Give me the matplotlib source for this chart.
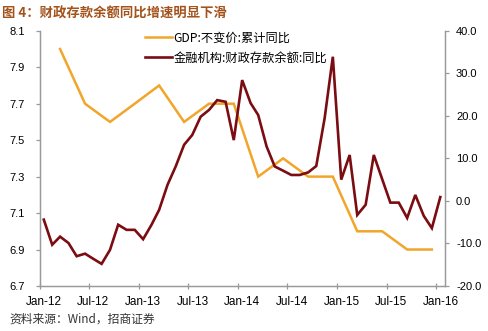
import matplotlib
matplotlib.use("Agg")
import matplotlib.pyplot as plt
import matplotlib.transforms as mtransforms
import numpy as np
import pandas as pd

plt.rcParams['font.family'] = ['Liberation Sans', 'Noto Sans CJK SC', 'DejaVu Sans']
plt.rcParams['axes.unicode_minus'] = False

# Quarterly GDP, constant price, cumulative YoY (%)
gdp_months = ['2012-03', '2012-06', '2012-09', '2012-12', '2013-03', '2013-06', '2013-09', '2013-12',
              '2014-03', '2014-06', '2014-09', '2014-12', '2015-03', '2015-06', '2015-09', '2015-12']
gdp_values = [8.0, 7.7, 7.6, 7.7, 7.8, 7.6, 7.7, 7.7,
              7.3, 7.4, 7.3, 7.3, 7.0, 7.0, 6.9, 6.9]

# Monthly fiscal deposits of financial institutions, YoY (%), Jan-2012 .. Jan-2016
dep_start = '2012-01'
dep_values = [-4.4, -10.3, -8.4, -9.9, -13.0, -12.4, -13.6, -14.8, -11.5, -5.6, -6.8, -6.8,
              -9.0, -5.6, -2.1, 3.8, 8.1, 13.2, 15.5, 19.8, 21.4, 23.7, 23.3, 14.3,
              28.4, 23.0, 20.2, 12.8, 8.1, 7.1, 6.1, 6.1, 6.7, 8.2, 19.5, 33.9,
              5.0, 10.8, -3.3, -0.9, 10.8, 5.1, -0.4, -0.4, -4.0, 1.4, -3.5, -6.4,
              0.9]

gdp_label = 'GDP:不变价:累计同比'
dep_label = '金融机构:财政存款余额:同比'
tick_labels = ['Jan-12', 'Jul-12', 'Jan-13', 'Jul-13', 'Jan-14', 'Jul-14', 'Jan-15', 'Jul-15', 'Jan-16']
title = '图 4：财政存款余额同比增速明显下滑'
source = '资料来源：Wind，招商证券'

orange = '#F2A52B'
darkred = '#7A0C12'
grey = '#9A9A9A'
cjk = ['Noto Sans CJK SC', 'DejaVu Sans']

# place monthly observations mid-month
gdp_x = pd.to_datetime(gdp_months) + pd.Timedelta(days=14)
dep_x = pd.date_range(dep_start, periods=len(dep_values), freq='MS') + pd.Timedelta(days=14)

fig = plt.figure(figsize=(4.89, 3.31), dpi=100)
ax = fig.add_axes([0.0818, 0.136, 0.828, 0.771])
ax2 = ax.twinx()

l1, = ax.plot(gdp_x, gdp_values, color=orange, lw=1.8, solid_joinstyle='miter')
l2, = ax2.plot(dep_x, dep_values, color=darkred, lw=1.9, solid_joinstyle='miter')

ax.set_ylim(6.7, 8.1)
ax.set_yticks(np.arange(6.7, 8.11, 0.2))
ax.yaxis.set_major_formatter(matplotlib.ticker.FormatStrFormatter('%.1f'))
ax2.set_ylim(-20, 40)
ax2.set_yticks(np.arange(-20, 41, 10))
ax2.yaxis.set_major_formatter(matplotlib.ticker.FormatStrFormatter('%.1f'))

ax.set_xlim(pd.Timestamp('2012-01-01'), pd.Timestamp('2016-02-01'))
ticks = pd.date_range('2012-01-01', '2016-01-01', freq='6MS')
ax.set_xticks(ticks)
ax.set_xticklabels(tick_labels)

for a in (ax, ax2):
    for s in a.spines.values():
        s.set_color(grey)
        s.set_linewidth(0.9)
    a.spines['top'].set_visible(False)
    a.tick_params(colors=grey, labelcolor='black', labelsize=8, length=3, width=0.9)
ax.tick_params(axis='x', direction='inout', length=5, pad=4.5, labelsize=8.5)
ax.tick_params(axis='y', pad=8)
ax2.tick_params(axis='y', pad=5)

# nudge date labels slightly to the right of their ticks
shift = mtransforms.ScaledTranslation(4 / 100, 0, fig.dpi_scale_trans)
for lab in ax.get_xticklabels():
    lab.set_transform(lab.get_transform() + shift)

leg = ax.legend([l1, l2], [gdp_label, dep_label], loc='upper left',
                bbox_to_anchor=(0.259, 0.998), frameon=False,
                borderaxespad=0, borderpad=0,
                handlelength=2.2, handletextpad=0.15, labelspacing=0.6,
                prop={'family': cjk, 'size': 8.8})

fig.text(0.004, 0.958, title, fontsize=9.6, fontweight='bold', color='#A3531C',
         family=cjk, va='center')
fig.text(0.02, 0.036, source, fontsize=8.5, color='#333333',
         family=cjk, va='center')

fig.savefig('out.png', dpi=100, facecolor='white')
